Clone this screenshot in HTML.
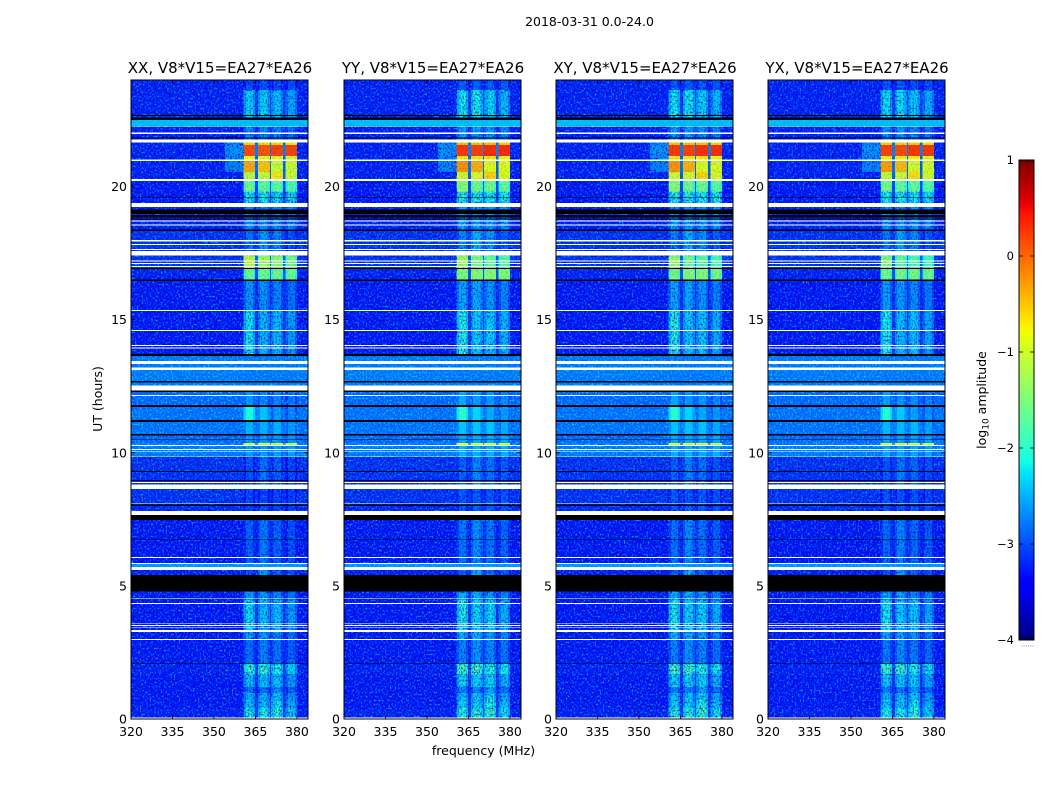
<!DOCTYPE html>
<html lang="en">
<head>
<meta charset="utf-8">
<title>2018-03-31 0.0-24.0</title>
<style>
  html, body { margin: 0; padding: 0; background: #fff; }
  svg { display: block; }
  text { font-family: "DejaVu Sans", "Liberation Sans", sans-serif; fill: #000; }
</style>
</head>
<body>
<svg id="chart" width="1050" height="800" viewBox="0 0 1050 800" xmlns="http://www.w3.org/2000/svg">
  <defs id="defs"></defs>
</svg>
<script>
// ---------- categories and tick labels ----------
const polarizations = ["XX", "YY", "XY", "YX"];
const baselineLabel = "V8*V15=EA27*EA26";
const freqTicks = [320, 335, 350, 365, 380];
const timeTicks = [0, 5, 10, 15, 20];
const colorbarTicks = [1, 0, -1, -2, -3, -4];

// ---------- heatmap values: log10 amplitude per UT band (hours) ----------
const bandStart = [0, 0.41, 0.71, 0.98, 1.20, 1.69, 2.07, 2.97, 3.27, 4.47, 4.78, 5.60, 5.86, 7.47, 8.12, 8.64, 9.31, 9.85, 10.25, 10.37, 10.65, 11.20, 11.75, 12.33, 13.63, 15.36, 16.45, 16.90, 17.40, 18.33, 19.23, 19.80, 20.21, 20.55, 20.95, 21.15, 21.55, 21.66, 22.25, 22.50, 23.62];
const bgLevel   = [-3.25, -3.3, -3.3, -3.3, -3.3, -3.25, -3.3, -3.3, -3.3, -3.3, -3.25, -2.7, -3.3, -3.2, -3.15, -3.15, -3.15, -2.85, -2.85, -2.95, -2.9, -2.9, -2.95, -2.85, -3.3, -3.3, -3.25, -3.15, -3.15, -3.25, -3.3, -3.3, -3.25, -3.25, -3.25, -3.25, -3.25, -3.25, -2.5, -3.25, -3.25];
const leakLevel = [-3.25, -3.3, -3.3, -3.3, -3.3, -3.25, -3.3, -3.3, -3.3, -3.3, -3.25, -2.7, -3.3, -3.2, -3.15, -3.15, -3.15, -2.85, -2.85, -2.95, -2.9, -2.9, -2.95, -2.85, -3.3, -3.3, -3.25, -3.15, -3.15, -3.25, -3.3, -3.3, -3.25, -2.7, -2.7, -2.6, -2.7, -3.25, -2.5, -3.25, -3.25];
const spw1Level = [-2.1, -2.35, -2.45, -2.8, -2.35, -1.9, -2.8, -2.55, -2.2, -2.55, -3.0, -2.7, -2.9, -3.05, -3.05, -3.0, -3.0, -2.65, -1.0, -2.7, -2.55, -2.05, -2.7, -2.85, -2.15, -2.6, -1.6, -1.1, -2.8, -2.65, -2.1, -1.55, -1.1, -0.35, -0.8, 0.15, -0.6, -2.65, -2.5, -2.25, -3.05];
const spw2Level = [-2.1, -2.35, -2.45, -2.8, -2.35, -1.9, -2.7, -2.55, -2.35, -2.55, -2.55, -2.7, -2.75, -3.0, -3.05, -2.75, -2.8, -2.65, -1.0, -2.7, -2.55, -2.45, -2.8, -2.85, -2.4, -2.6, -1.55, -1.3, -2.55, -2.65, -2.1, -1.65, -1.05, -0.5, -0.8, 0.1, -0.6, -2.65, -2.5, -2.25, -3.0];
const spw3Level = [-2.0, -2.15, -2.35, -2.6, -2.35, -2.1, -2.8, -2.65, -2.35, -2.7, -2.9, -2.7, -2.9, -3.0, -3.05, -2.9, -2.9, -2.65, -1.05, -2.7, -2.55, -2.7, -2.8, -2.85, -2.4, -2.7, -1.55, -1.4, -2.7, -2.65, -2.2, -1.65, -0.7, -1.0, -0.8, 0.2, -0.6, -2.7, -2.5, -2.35, -3.05];
const spw4Level = [-2.3, -2.45, -2.6, -2.9, -2.55, -2.25, -2.9, -2.8, -2.55, -2.8, -3.0, -2.7, -3.0, -3.05, -3.1, -3.05, -3.05, -2.65, -1.1, -2.7, -2.7, -2.8, -2.9, -2.85, -2.55, -2.8, -1.6, -1.5, -3.0, -2.7, -2.2, -1.75, -1.0, -1.0, -0.9, 0.2, -0.7, -2.8, -2.5, -2.5, -3.05];
const polOffset = [0, 0.12, 0.1, 0.05];
const polShiftBand = 16.90;
const polShift = [0, -0.3, -0.35, -0.4];

// spectral windows (MHz)
const spwLow  = [360.7, 365.9, 370.7, 375.9];
const spwHigh = [364.9, 370.2, 375.0, 380.1];
const leakLow = 354;
const spwEdgeWidth = 0.8;

// ---------- flagged UT ranges (hours) ----------
const whiteStart = [22.25, 21.98, 21.66, 20.95, 20.21, 19.23, 18.68, 18.53, 17.94, 17.80, 17.61, 17.40, 17.19, 17.08, 16.98, 15.32, 14.57, 14.01, 13.91, 13.33, 13.11, 12.33, 12.14, 10.25, 10.10, 10.02, 9.85, 8.86, 8.64, 8.09, 7.66, 6.05, 5.82, 5.60, 4.50, 4.32, 3.56, 3.49, 3.41, 3.27, 2.97, 0.01];
const whiteEnd   = [22.28, 22.02, 21.76, 21.02, 20.28, 19.38, 18.72, 18.58, 17.99, 17.84, 17.66, 17.58, 17.23, 17.12, 17.01, 15.36, 14.61, 14.05, 13.95, 13.45, 13.21, 12.53, 12.17, 10.29, 10.14, 10.04, 9.88, 8.90, 8.80, 8.12, 7.82, 6.08, 5.86, 5.71, 4.53, 4.36, 3.59, 3.53, 3.44, 3.34, 3.00, 0.05];
const blackStart = [22.65, 22.50, 21.80, 19.58, 18.96, 18.84, 18.76, 18.33, 16.90, 16.45, 13.63, 12.63, 12.28, 11.72, 11.15, 10.65, 10.48, 9.28, 8.94, 8.00, 7.47, 6.72, 4.78, 2.07];
const blackEnd   = [22.69, 22.59, 21.84, 19.61, 19.14, 18.93, 18.80, 18.38, 16.93, 16.51, 13.71, 12.69, 12.33, 11.79, 11.23, 10.70, 10.50, 9.31, 8.98, 8.05, 7.66, 6.75, 5.41, 2.09];

// ---------- layout ----------
const panelLeft = [131, 344, 556, 768];
const panelWidth = 177;
const plotTop = 80, plotBottom = 719;
const freqMin = 320, freqMax = 384, timeMin = 0, timeMax = 24;
const levelMin = -4, levelMax = 1;
const cbarLeft = 1019, cbarRight = 1034, cbarTop = 160, cbarBottom = 640;

const svg = document.getElementById('chart');
const defs = document.getElementById('defs');
const NS = 'http://www.w3.org/2000/svg';

function mk(tag, attrs, parent, text) {
  const el = document.createElementNS(NS, tag);
  for (const k in attrs) el.setAttribute(k, attrs[k]);
  if (text !== undefined) el.textContent = text;
  (parent || svg).appendChild(el);
  return el;
}

// axis functions
function xScale(panel, f) { return panelLeft[panel] + (f - freqMin) * panelWidth / (freqMax - freqMin); }
function yScale(h) { return plotBottom - (h - timeMin) * (plotBottom - plotTop) / (timeMax - timeMin); }
function cbarY(v) { return cbarBottom - (v - levelMin) * (cbarBottom - cbarTop) / (levelMax - levelMin); }

// jet colormap
const jetR = [[0,0],[0.35,0],[0.66,1],[0.89,1],[1,0.5]];
const jetG = [[0,0],[0.125,0],[0.375,1],[0.64,1],[0.91,0],[1,0]];
const jetB = [[0,0.5],[0.11,1],[0.34,1],[0.65,0],[1,0]];
function ramp(stops, t) {
  for (let i = 1; i < stops.length; i++) {
    if (t <= stops[i][0]) {
      const a = stops[i - 1], b = stops[i];
      return a[1] + (b[1] - a[1]) * (t - a[0]) / (b[0] - a[0]);
    }
  }
  return stops[stops.length - 1][1];
}
function colorScale(v) {
  const t = Math.min(1, Math.max(0, (v - levelMin) / (levelMax - levelMin)));
  return 'rgb(' + Math.round(255 * ramp(jetR, t)) + ',' + Math.round(255 * ramp(jetG, t)) + ',' + Math.round(255 * ramp(jetB, t)) + ')';
}

function addCell(group, panel, f0, f1, h0, h1, level) {
  const y0 = yScale(h1), y1 = yScale(h0);
  const x0 = xScale(panel, f0), x1 = xScale(panel, f1);
  const r = mk('rect', { x: x0, y: y0, width: x1 - x0, height: y1 - y0, fill: colorScale(level), 'shape-rendering': 'crispEdges' }, group);
  
  
}

function addNoise(group, panel, f0, f1, h0, h1, filterId, opacity) {
  const y0 = yScale(h1), y1 = yScale(h0);
  const x0 = xScale(panel, f0), x1 = xScale(panel, f1);
  const r = mk('rect', { x: x0, y: y0, width: x1 - x0, height: y1 - y0, fill: '#000', filter: 'url(#' + filterId + ')', opacity: opacity }, group);
  
  
}

// figure title
const suptitle = mk('text', { x: 589.5, y: 26, 'font-size': 12.5, 'text-anchor': 'middle' }, svg, '2018-03-31 0.0-24.0');



polarizations.forEach(function (pol, p) {
  const group = mk('g', {});
  
  

  const cells = mk('g', {}, group);
  
  

  // decorative receiver-noise texture filters
  const fullId = 'noise-full-' + p, lightId = 'noise-light-' + p;
  const filter = mk('filter', { id: fullId, x: 0, y: 0, width: '100%', height: '100%', 'color-interpolation-filters': 'sRGB' }, defs);
  mk('feTurbulence', { type: 'fractalNoise', baseFrequency: '0.62 0.5', numOctaves: 1, seed: 11 + p * 7, result: 'n' }, filter);
  mk('feColorMatrix', { in: 'n', type: 'matrix', values: '0 0 0 0 0  0 0 0 0 0.6  0 0 0 0 1  3.6 0 0 0 -1.7', result: 'light' }, filter);
  mk('feColorMatrix', { in: 'n', type: 'matrix', values: '0 0 0 0 0  0 0 0 0 0  0 0 0 0 0.7  0 3 0 0 -1.4', result: 'dark' }, filter);
  const merge = mk('feMerge', {}, filter);
  mk('feMergeNode', { in: 'light' }, merge);
  mk('feMergeNode', { in: 'dark' }, merge);
  const lightFilter = mk('filter', { id: lightId, x: 0, y: 0, width: '100%', height: '100%', 'color-interpolation-filters': 'sRGB' }, defs);
  mk('feTurbulence', { type: 'fractalNoise', baseFrequency: '0.62 0.5', numOctaves: 1, seed: 11 + p * 7, result: 'n' }, lightFilter);
  mk('feColorMatrix', { in: 'n', type: 'matrix', values: '0 0 0 0 0  0 0 0 0 0.85  0 0 0 0 1  3 0 0 0 -1.4' }, lightFilter);

  bandStart.forEach(function (start, b) {
    const end = b + 1 < bandStart.length ? bandStart[b + 1] : timeMax;
    const bg = bgLevel[b];
    const shift = polOffset[p] + (start === polShiftBand ? polShift[p] : 0);
    const levels = [spw1Level[b], spw2Level[b], spw3Level[b], spw4Level[b]];
    addCell(cells, p, freqMin, leakLow, start, end, bg);
    addCell(cells, p, leakLow, spwLow[0], start, end, leakLevel[b]);
    levels.forEach(function (lv, s) {
      const level = lv === bg ? lv : lv + shift;
      const edge = (lv === bg || level > -1.5) ? level : level - 0.3;
      addCell(cells, p, spwLow[s], spwLow[s] + spwEdgeWidth, start, end, edge);
      addCell(cells, p, spwLow[s] + spwEdgeWidth, spwHigh[s] - spwEdgeWidth, start, end, level);
      addCell(cells, p, spwHigh[s] - spwEdgeWidth, spwHigh[s], start, end, edge);
      const gapEnd = s < 3 ? spwLow[s + 1] : freqMax;
      const gapLevel = s < 3 ? bg + 0.15 * (level - bg) : bg;
      addCell(cells, p, spwHigh[s], gapEnd, start, end, gapLevel);
    });
    // noise strength follows the band brightness: bright windows are clean
    const bgFilter = bg > -3 ? lightId : fullId;
    addNoise(group, p, freqMin, spwLow[0], start, end, bgFilter, 1);
    addNoise(group, p, spwHigh[3], freqMax, start, end, bgFilter, 1);
    const peak = Math.max.apply(null, levels);
    addNoise(group, p, spwLow[0], spwHigh[3], start, end, bg > -3 ? lightId : fullId, peak > -1.7 ? 0.2 : 0.85);
  });

  // flagged rows
  whiteStart.forEach(function (h0, i) {
    const r = mk('rect', { x: panelLeft[p], y: yScale(whiteEnd[i]), width: panelWidth, height: yScale(h0) - yScale(whiteEnd[i]), fill: '#fff', 'shape-rendering': 'crispEdges' }, group);
    
    
  });
  blackStart.forEach(function (h0, i) {
    const r = mk('rect', { x: panelLeft[p], y: yScale(blackEnd[i]), width: panelWidth, height: yScale(h0) - yScale(blackEnd[i]), fill: '#000', 'shape-rendering': 'crispEdges' }, group);
    
    
  });

  // frame
  const frame = mk('rect', { x: panelLeft[p], y: plotTop, width: panelWidth, height: plotBottom - plotTop, fill: 'none', stroke: '#000', 'stroke-width': 1 }, group);
  
  

  // x ticks
  freqTicks.forEach(function (f) {
    const x = xScale(p, f);
    const t1 = mk('line', { x1: x, x2: x, y1: plotBottom, y2: plotBottom - 4, stroke: '#000', 'stroke-width': 0.8 }, group);
    
    
    const t2 = mk('line', { x1: x, x2: x, y1: plotTop, y2: plotTop + 4, stroke: '#000', 'stroke-width': 0.8 }, group);
    
    
    const lab = mk('text', { x: x, y: 736, 'font-size': 12.5, 'text-anchor': 'middle' }, group, String(f));
    
    
  });

  // y ticks
  timeTicks.forEach(function (h) {
    const y = yScale(h);
    const t1 = mk('line', { x1: panelLeft[p], x2: panelLeft[p] + 4, y1: y, y2: y, stroke: '#000', 'stroke-width': 0.8 }, group);
    
    
    const t2 = mk('line', { x1: panelLeft[p] + panelWidth, x2: panelLeft[p] + panelWidth - 4, y1: y, y2: y, stroke: '#000', 'stroke-width': 0.8 }, group);
    
    
    const lab = mk('text', { x: panelLeft[p] - 4, y: y + 4.5, 'font-size': 12.5, 'text-anchor': 'end' }, group, String(h));
    
    
  });

  // panel title
  const title = mk('text', { x: panelLeft[p] + panelWidth / 2 + 0.5, y: 73, 'font-size': 15, 'text-anchor': 'middle' }, group, pol + ', ' + baselineLabel);
  
  
});

// axis titles
const xTitle = mk('text', { x: 483.5, y: 755, 'font-size': 12.5, 'text-anchor': 'middle' }, svg, 'frequency (MHz)');



const yTitle = mk('text', { x: 0, y: 0, 'font-size': 12.5, 'text-anchor': 'middle', transform: 'translate(102 399) rotate(-90)' }, svg, 'UT (hours)');



// colorbar
const cbar = mk('g', {});


for (let i = 0; i < 240; i++) {
  const v0 = levelMin + i * (levelMax - levelMin) / 240;
  const v1 = levelMin + (i + 1) * (levelMax - levelMin) / 240;
  const seg = mk('rect', { x: cbarLeft, y: cbarY(v1), width: cbarRight - cbarLeft, height: cbarY(v0) - cbarY(v1) + 0.5, fill: colorScale((v0 + v1) / 2), 'shape-rendering': 'crispEdges' }, cbar);
  
  
}
const cbarFrame = mk('rect', { x: cbarLeft, y: cbarTop, width: cbarRight - cbarLeft, height: cbarBottom - cbarTop, fill: 'none', stroke: '#000', 'stroke-width': 1 }, cbar);



colorbarTicks.forEach(function (v) {
  const y = cbarY(v);
  const tl = mk('line', { x1: cbarLeft, x2: cbarLeft + 4, y1: y, y2: y, stroke: '#000', 'stroke-width': 0.8 }, cbar);
  
  
  const tr = mk('line', { x1: cbarRight, x2: cbarRight - 4, y1: y, y2: y, stroke: '#000', 'stroke-width': 0.8 }, cbar);
  
  
  const lab = mk('text', { x: 1014, y: y + 4, 'font-size': 11.5, 'text-anchor': 'end' }, cbar, String(v).replace('-', '\u2212'));
  
  
});

// minor ticks at the colorbar ends
[0, 1, 2, 3, 4, 5].forEach(function (i) {
  const x = cbarLeft + 3 + i * 2.2;
  const a = mk('line', { x1: x, x2: x, y1: cbarTop, y2: cbarTop + 2, stroke: '#000', 'stroke-width': 0.6 }, cbar);
  
  
  const b = mk('line', { x1: x, x2: x, y1: cbarBottom, y2: cbarBottom - 4, stroke: '#000', 'stroke-width': 0.6 }, cbar);
  
  
  const c = mk('rect', { x: x - 0.4, y: 645.5, width: 0.9, height: 1, fill: '#888' }, cbar);
  
  
});

const cbarTitle = mk('text', { x: 0, y: 0, 'font-size': 12.5, 'text-anchor': 'middle', transform: 'translate(986 400) rotate(-90)' }, svg);


mk('tspan', {}, cbarTitle, 'log');
mk('tspan', { 'font-size': 9, dy: 2.5 }, cbarTitle, '10');
mk('tspan', { dy: -2.5 }, cbarTitle, ' amplitude');
</script>
</body>
</html>
